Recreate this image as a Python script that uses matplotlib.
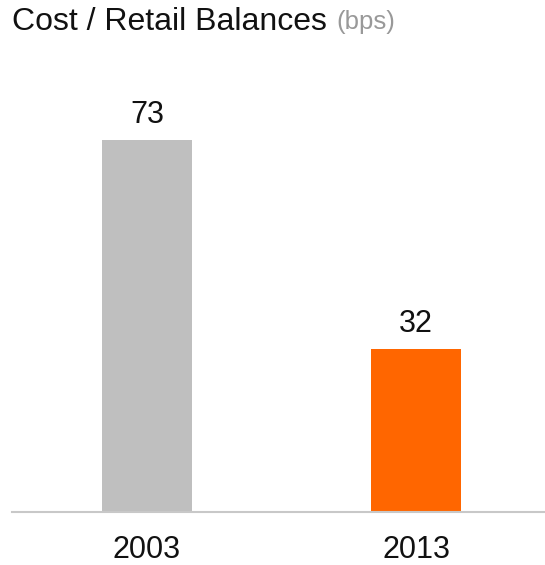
import matplotlib.pyplot as plt

# data
years = ["2003", "2013"]
values = [73, 32]
bar_colors = ["#bfbfbf", "#ff6600"]

plt.rcParams["font.family"] = ["Liberation Sans", "DejaVu Sans"]

W, H = 545, 565
fig = plt.figure(figsize=(W / 100, H / 100), dpi=100)

# axes: spine at y=512px, spans x=12..545px
ax = fig.add_axes((12 / W, 53 / H, 533 / W, 452 / H))
x = [0, 1]
ax.bar(x, values, width=0.335, color=bar_colors)
ax.set_xlim(-135 / 269, 398 / 269)
ax.set_ylim(0, 452 / 5.09)

for xi, v in zip(x, values):
    ax.annotate(str(v), xy=(xi, v), xytext=(0, 12.5), textcoords="offset points",
                ha="center", va="baseline", fontsize=22, color="#111111")

ax.set_xticks(x)
ax.set_xticklabels(years, fontsize=22, color="#111111")
ax.tick_params(axis="x", length=0, pad=16.5)
ax.set_yticks([])
for side in ["top", "left", "right"]:
    ax.spines[side].set_visible(False)
ax.spines["bottom"].set_color("#c8c8c8")
ax.spines["bottom"].set_linewidth(1.5)

# title with smaller grey unit
title = fig.text(12 / W, (H - 29.5) / H, "Cost / Retail Balances", fontsize=23,
                 color="#111111", va="baseline", ha="left")
fig.canvas.draw()
bb = title.get_window_extent()
fig.text((bb.x1 + 10) / W, (H - 29.5) / H, "(bps)", fontsize=18.5, color="#999999",
         va="baseline", ha="left")

fig.savefig("out.png", dpi=100)
